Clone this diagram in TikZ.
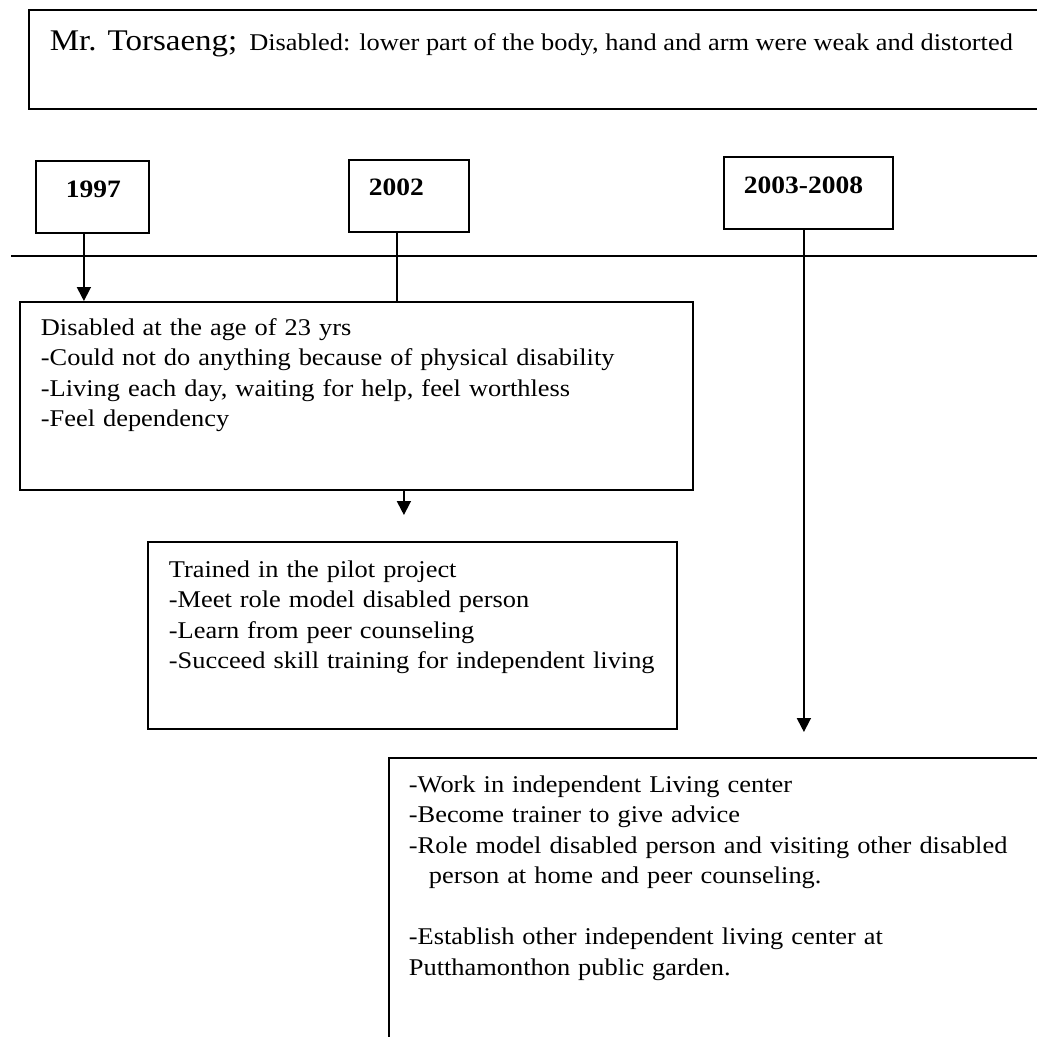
\documentclass[tikz,border=0pt]{standalone}
\usepackage{fontspec}
\setmainfont{Liberation Serif}[FakeStretch=1.1]
\usetikzlibrary{arrows.meta, positioning}

\begin{document}
\begin{tikzpicture}[x=1pt, y=-1pt, line width=1.8pt,
    box/.style={draw, rectangle, inner sep=0pt, anchor=north west},
    yearbox/.style={box, minimum width=#1, minimum height=72pt},
    yeartxt/.style={anchor=base west, inner sep=0pt, font=\fontsize{25}{30}\selectfont\bfseries},
    bodytxt/.style={anchor=base west, inner sep=0pt, align=left, text width=#1, font=\fontsize{24}{30.5}\selectfont},
    arr/.style={-{Triangle[width=14pt,length=14pt]}}]
    \useasboundingbox (0,0) rectangle (1037,1037);

    % profile of the person
    \node[box, minimum width=1030pt, minimum height=99pt] (profile) at (28,9) {};
    \node[anchor=base west, inner sep=0pt, font=\fontsize{24}{29}\selectfont] (name) at (49,50)
        {{\fontsize{30}{36}\selectfont Mr. Torsaeng;}\hspace{12pt}Disabled: lower part of the body, hand and arm were weak and distorted};

    % years
    \node[yearbox=113pt] (y1997) at (35,160) {};
    \node[yearbox=120pt] (y2002) at (348,159) {};
    \node[yearbox=169pt] (y2003) at (723,156) {};
    \node[yeartxt] (t1997) at (65,197) {1997};
    \node[yeartxt] (t2002) at (368,195) {2002};
    \node[yeartxt] (t2003) at (743,193) {2003-2008};

    % time line
    \coordinate (tl-start) at (11,256);
    \coordinate (tl-end) at (1045,256);
    \draw (tl-start) -- (tl-end);

    % stages
    \node[box, minimum width=673pt, minimum height=188pt] (early) at (19,301) {};
    \node[box, minimum width=529pt, minimum height=187pt] (trained) at (147,541) {};
    \node[box, minimum width=700pt, minimum height=320pt] (center) at (388,757) {};

    \node[bodytxt=640pt] (early-txt) at (40,335)
        {Disabled at the age of 23 yrs\\
         -Could not do anything because of physical disability\\
         -Living each day, waiting for help, feel worthless\\
         -Feel dependency};
    \node[bodytxt=500pt] (trained-txt) at (168,577)
        {Trained in the pilot project\\
         -Meet role model disabled person\\
         -Learn from peer counseling\\
         -Succeed skill training for independent living};
    \node[bodytxt=620pt] (center-txt) at (408,792)
        {-Work in independent Living center\\
         -Become trainer to give advice\\
         -Role model disabled person and visiting other disabled\\
         \hspace*{20pt}person at home and peer counseling.\\[30.5pt]
         -Establish other independent living center at\\
         Putthamonthon public garden.};

    % connectors
    \coordinate (c1997) at ([xshift=-8.5pt]y1997.south);
    \draw[arr] (c1997) -- (c1997 |- early.north);
    \coordinate (c2002) at ([xshift=-12pt]y2002.south);
    \draw (c2002) -- (c2002 |- early.north);
    \coordinate (c2003) at ([xshift=-4.5pt]y2003.south);
    \coordinate (center-top) at ([yshift=25pt]center.north);
    \draw[arr] (c2003) -- (c2003 |- center-top);
    \coordinate (c-early) at ([xshift=47.5pt]early.south);
    \coordinate (trained-top) at ([yshift=26pt]trained.north);
    \draw[arr] (c-early) -- (c-early |- trained-top);
\end{tikzpicture}
\end{document}
